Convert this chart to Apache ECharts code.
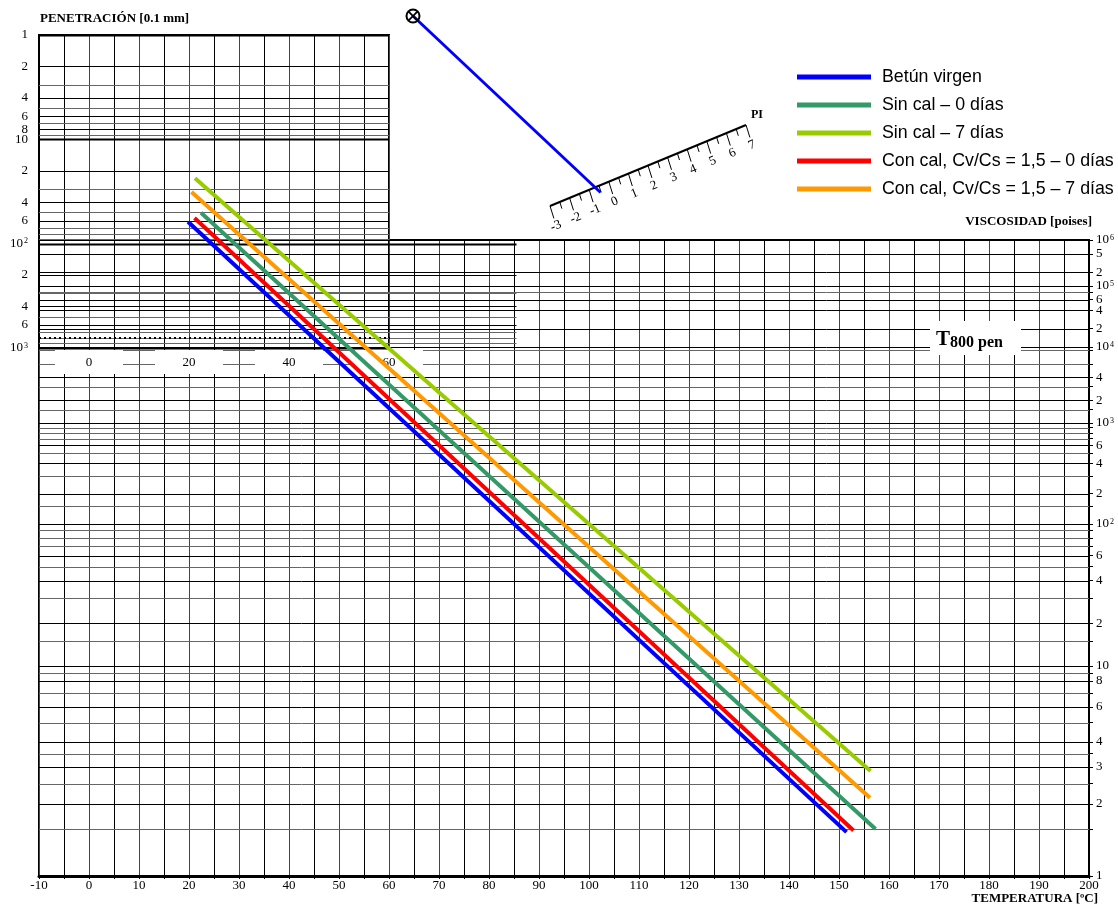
<!DOCTYPE html>
<html><head><meta charset="utf-8">
<script src="https://cdn.jsdelivr.net/npm/echarts@6/dist/echarts.min.js"></script>
<style>html,body{margin:0;padding:0;background:#fff}#c{width:1118px;height:907px}</style>
</head><body><div id="c"></div>
<script>
// ================= DATA =================
const seriesNames = ['Betún virgen', 'Sin cal – 0 días', 'Sin cal – 7 días', 'Con cal, Cv/Cs = 1,5 – 0 días', 'Con cal, Cv/Cs = 1,5 – 7 días'];
const seriesColors = ['#0000ff', '#339966', '#99cc00', '#ff0000', '#ff9900'];
// each line: [start, end] temperature (°C) and viscosity (poise)
const virgenTemp = [19.8, 151.5];   const virgenVisc = [2.5e6, 1.46];
const sinCal0Temp = [22.4, 157.3];  const sinCal0Visc = [3.9e6, 1.50];
const sinCal7Temp = [21.2, 156.3];  const sinCal7Visc = [2.2e7, 2.87];
const conCal0Temp = [21.1, 152.9];  const conCal0Visc = [3.0e6, 1.48];
const conCal7Temp = [20.5, 156.2];  const conCal7Visc = [1.1e7, 2.14];

const tempTicks = [-10, 0, 10, 20, 30, 40, 50, 60, 70, 80, 90, 100, 110, 120, 130, 140, 150, 160, 170, 180, 190, 200];
const penXTicks = [0, 20, 40, 60];
const penLabelValues = [1, 2, 4, 6, 8, 10, 20, 40, 60, 100, 200, 400, 600, 1000];
const penLabelTexts  = ['1', '2', '4', '6', '8', '10', '2', '4', '6', '10^2', '2', '4', '6', '10^3'];
const penGridValues = [1,2,3,4,5,6,7,8,9,10,20,30,40,50,60,70,80,90,100,200,300,400,500,600,700,800,900,1000];
const viscLabelValues = [1e6, 5e5, 2e5, 1e5, 6e4, 4e4, 2e4, 1e4, 4e3, 2e3, 1e3, 600, 400, 200, 100, 60, 40, 20, 10, 8, 6, 4, 3, 2, 1];
const viscLabelTexts  = ['10^6','5','2','10^5','6','4','2','10^4','4','2','10^3','6','4','2','10^2','6','4','2','10','8','6','4','3','2','1'];
const viscGridValues = [1,1.5,2,2.5,3,3.5,4,5,6,7,8,9,10,15,20,30,40,50,60,70,80,90,100,150,200,300,400,500,600,700,800,900,1000,1500,2000,3000,4000,6000,9000,1e4,2e4,4e4,6e4,8e4,1e5,2e5,5e5,1e6];
const piTickLabels = [-3, -2, -1, 0, 1, 2, 3, 4, 5, 6, 7];
const piVirgen = -0.7;
const penT800 = 800;
const t800LabelTemp = 168.2;

// ================= SCALES / LAYOUT =================
const SERIF = "'Liberation Serif','Times New Roman',serif";
const SANS = "'Liberation Sans',Arial,sans-serif";
const G0 = {left: 39, top: 240, width: 1050, height: 636};
const G1 = {left: 39, top: 35, width: 350, height: 313};
// viscosity axis: non-uniform chart scale, anchors given as [poise, pixel row]
const viscScale = [[1,876],[1.5,829],[2,804],[3,767],[4,742],[6,707],[8,681],[10,666],[100,524],[1e3,423],[1e4,347],[1e5,286],[1e6,240]];
const visTopPerDecade = 46;
function viscToAxis(v) {
  const L = Math.log10(v);
  const top = G0.top, bot = G0.top + G0.height;
  let y;
  if (L >= 6) { y = top - (L - 6) * visTopPerDecade; }
  else {
    for (let i = 0; i < viscScale.length - 1; i++) {
      const a = viscScale[i], b = viscScale[i + 1];
      const la = Math.log10(a[0]), lb = Math.log10(b[0]);
      if (L >= la && L <= lb) { y = a[1] + (L - la) / (lb - la) * (b[1] - a[1]); break; }
    }
  }
  return (bot - y) / G0.height;
}
const penToAxis = p => Math.log10(p);
const crisp = v => Math.round(v) + 0.5;

function supText(t) {
  const m = /^10\^(\d)$/.exec(t);
  return m ? '10{sup|' + m[1] + '}' : t;
}
const richNum = {sup: {fontSize: 8, verticalAlign: 'top', fontFamily: SERIF, color: '#000', padding: [0, 0, 0, 1]}};

const viscLabelSet = new Set(viscLabelValues);
const viscAxisLabelPos = viscLabelValues.map(viscToAxis);
const penAxisLabelPos = penLabelValues.map(penToAxis);
function nearestIndex(arr, v) {
  let bi = 0, bd = Infinity;
  arr.forEach((x, i) => { const d = Math.abs(x - v); if (d < bd) { bd = d; bi = i; } });
  return bi;
}

const lineSets = [
  [virgenTemp, virgenVisc], [sinCal0Temp, sinCal0Visc], [sinCal7Temp, sinCal7Visc],
  [conCal0Temp, conCal0Visc], [conCal7Temp, conCal7Visc]
];
const dataSeries = lineSets.map((s, i) => ({
  name: seriesNames[i], type: 'line', xAxisIndex: 0, yAxisIndex: 0, z: 6,
  clip: false, symbol: 'none', silent: true, animation: false,
  lineStyle: {color: seriesColors[i], width: 4, cap: 'butt'},
  itemStyle: {color: seriesColors[i]},
  data: s[0].map((t, k) => [t, viscToAxis(s[1][k])])
}));

// ---- PI nomograph (decoration, layout constants) ----
const PI_A = [550, 206], PI_B = [746, 125], PIVOT = [413, 16];
const piMin = -3, piMax = 7;
function piPoint(p) {
  const f = (p - piMin) / (piMax - piMin);
  return [PI_A[0] + f * (PI_B[0] - PI_A[0]), PI_A[1] + f * (PI_B[1] - PI_A[1])];
}
const dx = PI_B[0] - PI_A[0], dy = PI_B[1] - PI_A[1];
const ang = Math.atan2(-dy, dx);
const tickDir = [0.3, 0.954];
const graphics = [];
graphics.push({type: 'line', shape: {x1: PI_A[0], y1: PI_A[1], x2: PI_B[0], y2: PI_B[1]}, style: {stroke: '#000', lineWidth: 2}});
for (let p = piMin; p <= piMax + 1e-9; p += 0.5) {
  const q = piPoint(p);
  const major = Math.abs(p - Math.round(p)) < 1e-6;
  const L = major ? 13 : 7;
  graphics.push({type: 'line', shape: {x1: q[0], y1: q[1], x2: q[0] + tickDir[0] * L, y2: q[1] + tickDir[1] * L}, style: {stroke: '#000', lineWidth: 1}});
}
piTickLabels.forEach(p => {
  const q = piPoint(p);
  graphics.push({type: 'text', x: q[0] + 6, y: q[1] + 20, rotation: ang,
    style: {text: String(p), fontSize: 13, fontFamily: SERIF, fill: '#000', align: 'center', verticalAlign: 'middle', textAlign: 'center', textVerticalAlign: 'middle'}});
});
graphics.push({type: 'text', x: PI_B[0] + 11, y: PI_B[1] - 10,
  style: {text: 'PI', fontSize: 12, fontWeight: 'bold', fontFamily: SERIF, fill: '#000', align: 'center', verticalAlign: 'middle', textAlign: 'center', textVerticalAlign: 'middle'}});
(function () {
  const q = piPoint(piVirgen);
  const vx = q[0] - PIVOT[0], vy = q[1] - PIVOT[1];
  const k = 1.03;
  graphics.push({type: 'line', shape: {x1: PIVOT[0], y1: PIVOT[1], x2: PIVOT[0] + vx * k, y2: PIVOT[1] + vy * k}, style: {stroke: '#0000ff', lineWidth: 3}});
})();
graphics.push({type: 'circle', shape: {cx: PIVOT[0], cy: PIVOT[1], r: 6.5}, style: {fill: 'none', stroke: '#000', lineWidth: 2}});
graphics.push({type: 'line', shape: {x1: PIVOT[0] - 4.6, y1: PIVOT[1] - 4.6, x2: PIVOT[0] + 4.6, y2: PIVOT[1] + 4.6}, style: {stroke: '#000', lineWidth: 1.8}});
graphics.push({type: 'line', shape: {x1: PIVOT[0] - 4.6, y1: PIVOT[1] + 4.6, x2: PIVOT[0] + 4.6, y2: PIVOT[1] - 4.6}, style: {stroke: '#000', lineWidth: 1.8}});

const option = {
  animation: false,
  backgroundColor: '#fff',
  title: [
    {text: 'PENETRACIÓN [0.1 mm]', left: 40, top: 12, padding: 0, textStyle: {fontFamily: SERIF, fontSize: 13, fontWeight: 'bold', color: '#000'}},
    {text: 'VISCOSIDAD [poises]', right: 26, top: 215, padding: 0, textStyle: {fontFamily: SERIF, fontSize: 13, fontWeight: 'bold', color: '#000'}},
    {text: 'TEMPERATURA [ºC]', right: 20, top: 892, padding: 0, textStyle: {fontFamily: SERIF, fontSize: 13, fontWeight: 'bold', color: '#000'}}
  ],
  legend: {
    orient: 'vertical', left: 797, top: 66, padding: 0, itemWidth: 74, itemHeight: 5, itemGap: 6,
    icon: 'rect', selectedMode: false, data: seriesNames,
    textStyle: {fontFamily: SANS, fontSize: 17.8, color: '#000', lineHeight: 22, padding: [0, 0, 0, 6]}
  },
  grid: [
    Object.assign({show: true, borderColor: '#000', borderWidth: 2, containLabel: false}, G0),
    Object.assign({show: true, borderColor: '#000', borderWidth: 2, containLabel: false}, G1)
  ],
  xAxis: [
    {gridIndex: 0, type: 'value', min: -10, max: 200, interval: 10,
      axisLine: {show: true, onZero: false, lineStyle: {color: '#000', width: 3}},
      axisTick: {show: true, length: 3, lineStyle: {color: '#000'}},
      minorTick: {show: true, splitNumber: 2, length: 3, lineStyle: {color: '#000'}},
      axisLabel: {color: '#000', fontSize: 13, fontFamily: SERIF, margin: 3,
        customValues: tempTicks},
      splitLine: {show: true, lineStyle: {color: '#444', width: 1}},
      minorSplitLine: {show: true, lineStyle: {color: '#000', width: 1}}},
    {gridIndex: 1, type: 'value', min: -10, max: 60, interval: 10,
      axisLine: {show: false}, axisTick: {show: false}, axisLabel: {show: false},
      minorTick: {show: false, splitNumber: 2},
      splitLine: {show: true, lineStyle: {color: '#444', width: 1}},
      minorSplitLine: {show: true, lineStyle: {color: '#000', width: 1}}}
  ],
  yAxis: [
    {gridIndex: 0, type: 'value', min: 0, max: 1, position: 'right',
      axisLine: {show: true, onZero: false, lineStyle: {color: '#000', width: 2}},
      axisTick: {show: true, inside: false, length: 4, lineStyle: {color: '#000'}, customValues: viscGridValues.map(viscToAxis)},
      axisLabel: {show: true, margin: 7, color: '#000', fontSize: 13, fontFamily: SERIF, align: 'left',
        customValues: viscAxisLabelPos,
        formatter: v => supText(viscLabelTexts[nearestIndex(viscAxisLabelPos, v)]),
        rich: richNum},
      splitLine: {show: false}},
    {gridIndex: 1, type: 'value', min: 0, max: 3, inverse: true, position: 'left',
      axisLine: {show: true, onZero: false, lineStyle: {color: '#000', width: 2}},
      axisTick: {show: false},
      axisLabel: {show: true, margin: 11, color: '#000', fontSize: 13, fontFamily: SERIF,
        customValues: penAxisLabelPos,
        formatter: v => supText(penLabelTexts[nearestIndex(penAxisLabelPos, v)]),
        rich: richNum},
      splitLine: {show: false}}
  ],
  series: [
    {type: 'custom', xAxisIndex: 0, yAxisIndex: 0, z: 1, silent: true, clip: false,
      data: viscGridValues.map(v => [-10, viscToAxis(v)]),
      renderItem: (params, api) => {
        const a = api.coord([-10, api.value(1)]), b = api.coord([200, api.value(1)]);
        const y = crisp(a[1]);
        const v = viscGridValues[params.dataIndex];
        return {type: 'line', shape: {x1: a[0], y1: y, x2: b[0], y2: y},
          style: {stroke: viscLabelSet.has(v) ? '#000' : '#666', lineWidth: 1}};
      }},
    {type: 'custom', xAxisIndex: 1, yAxisIndex: 1, z: 1, silent: true, clip: false,
      data: penGridValues.map(p => [-10, penToAxis(p)]),
      renderItem: (params, api) => {
        const p = penGridValues[params.dataIndex];
        const tEnd = (p >= 100 && p < 1000) ? 85.5 : 60;
        const a = api.coord([-10, api.value(1)]), b = api.coord([tEnd, api.value(1)]);
        const y = crisp(a[1]);
        const dec = [1, 10, 100, 1000].indexOf(p) >= 0;
        return {type: 'line', shape: {x1: a[0], y1: y, x2: b[0], y2: y},
          style: {stroke: (dec || penLabelValues.indexOf(p) >= 0) ? '#000' : '#666', lineWidth: dec ? 2 : 1}};
      }},
    {type: 'custom', xAxisIndex: 1, yAxisIndex: 1, z: 3, silent: true, clip: false,
      data: penXTicks.map(t => [t, penToAxis(1000)]),
      renderItem: (params, api) => {
        const q = api.coord([api.value(0), api.value(1)]);
        return {type: 'group', children: [
          {type: 'rect', shape: {x: q[0] - 34, y: q[1] + 2, width: 68, height: 24}, style: {fill: '#fff'}},
          {type: 'text', x: q[0], y: q[1] + 15, style: {text: String(penXTicks[params.dataIndex]), fontSize: 13, fontFamily: SERIF, fill: '#000', align: 'center', verticalAlign: 'middle'}}
        ]};
      }},
    {type: 'line', xAxisIndex: 1, yAxisIndex: 1, z: 4, clip: false, symbol: 'none', silent: true,
      lineStyle: {color: '#000', width: 2, type: [2, 3]},
      data: [[-10, penToAxis(penT800)], [t800LabelTemp, penToAxis(penT800)]]},
    {type: 'custom', xAxisIndex: 1, yAxisIndex: 1, z: 3, silent: true, clip: false,
      data: [[t800LabelTemp, penToAxis(penT800)]],
      renderItem: (params, api) => {
        const q = api.coord([api.value(0), api.value(1)]);
        return {type: 'group', children: [
          {type: 'rect', shape: {x: q[0], y: q[1] - 17, width: 91, height: 34}, style: {fill: '#fff'}},
          {type: 'text', x: q[0] + 6, y: q[1] + 2, style: {text: '{t|T}{s|800 pen}', align: 'left', verticalAlign: 'middle',
            rich: {t: {fontSize: 21, fontWeight: 'bold', fontFamily: SERIF, color: '#000'},
                   s: {fontSize: 16, fontWeight: 'bold', fontFamily: SERIF, color: '#000', verticalAlign: 'bottom'}}}}
        ]};
      }}
  ].concat(dataSeries),
  graphic: graphics
};

const chart = echarts.init(document.getElementById('c'), null, {renderer: 'canvas'});
chart.setOption(option);
</script>
</body></html>
